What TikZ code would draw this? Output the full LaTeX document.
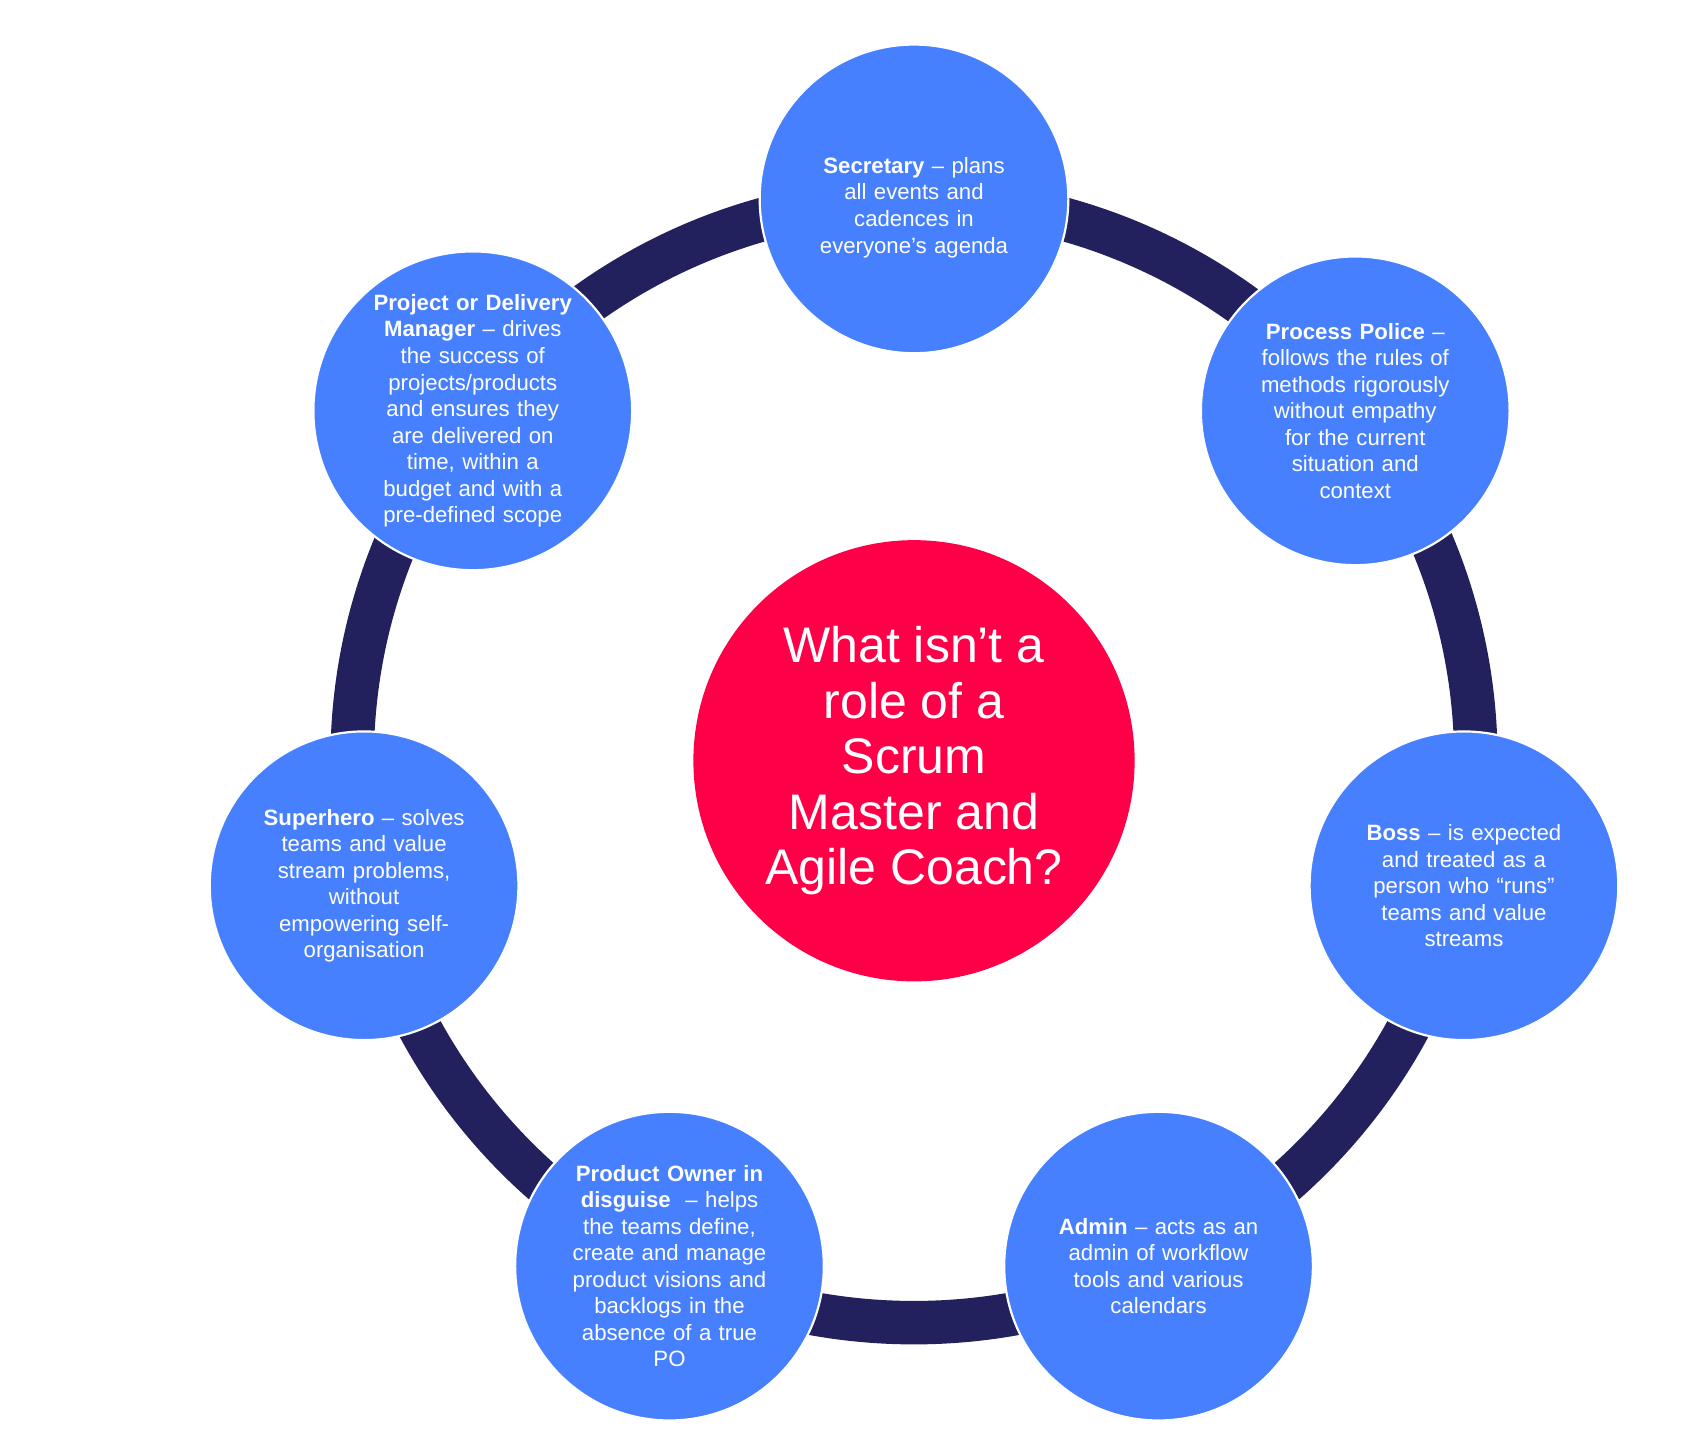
\documentclass[tikz,border=0pt]{standalone}
\usepackage{fontspec}
\setmainfont{Liberation Sans}
\definecolor{bl}{HTML}{4680FF}
\definecolor{rd}{HTML}{FF0048}
\definecolor{nv}{HTML}{22215E}
\begin{document}
\begin{tikzpicture}[x=0.5pt,y=-0.5pt,
 role/.style={circle,fill=bl,draw=white,line width=1pt,minimum size=142pt,inner sep=0pt,text=white,align=center,font=\fontsize{10.2}{12.2}\selectfont,text width=100pt}]
\useasboundingbox (0,0) rectangle (1555,1323);
\draw[nv,line width=20pt] (841,700) circle[radius=517];
\node[circle,fill=rd,minimum size=203pt,inner sep=0pt,text=white,align=center,font=\fontsize{23}{25.5}\selectfont] (c) at (841,700) {What isn’t a\\role of a\\Scrum\\Master and\\Agile Coach?};
\node[role] (sec) at (841,183) {\textbf{Secretary} – plans\\all events and\\cadences in\\everyone’s agenda\\[-18pt]\mbox{}};
\node[role] (pp) at (1247,378) {\textbf{Process Police} –\\follows the rules of\\methods rigorously\\without empathy\\for the current\\situation and\\context};
\node[role] (boss) at (1347,815) {\textbf{Boss} – is expected\\and treated as a\\person who “runs”\\teams and value\\streams};
\node[role] (adm) at (1066,1165) {\textbf{Admin} – acts as an\\admin of workflow\\tools and various\\calendars\\[-12pt]\mbox{}};
\node[role] (po) at (616,1165) {\textbf{Product Owner in}\\\textbf{disguise} \ – helps\\the teams define,\\create and manage\\product visions and\\backlogs in the\\absence of a true\\PO};
\node[role] (sh) at (335,815) {\textbf{Superhero} – solves\\teams and value\\stream problems,\\without\\empowering self-\\organisation};
\node[role] (pd) at (435,378) {\textbf{Project or Delivery}\\\textbf{Manager} – drives\\the success of\\projects/products\\and ensures they\\are delivered on\\time, within a\\budget and with a\\pre-defined scope};
\end{tikzpicture}
\end{document}
